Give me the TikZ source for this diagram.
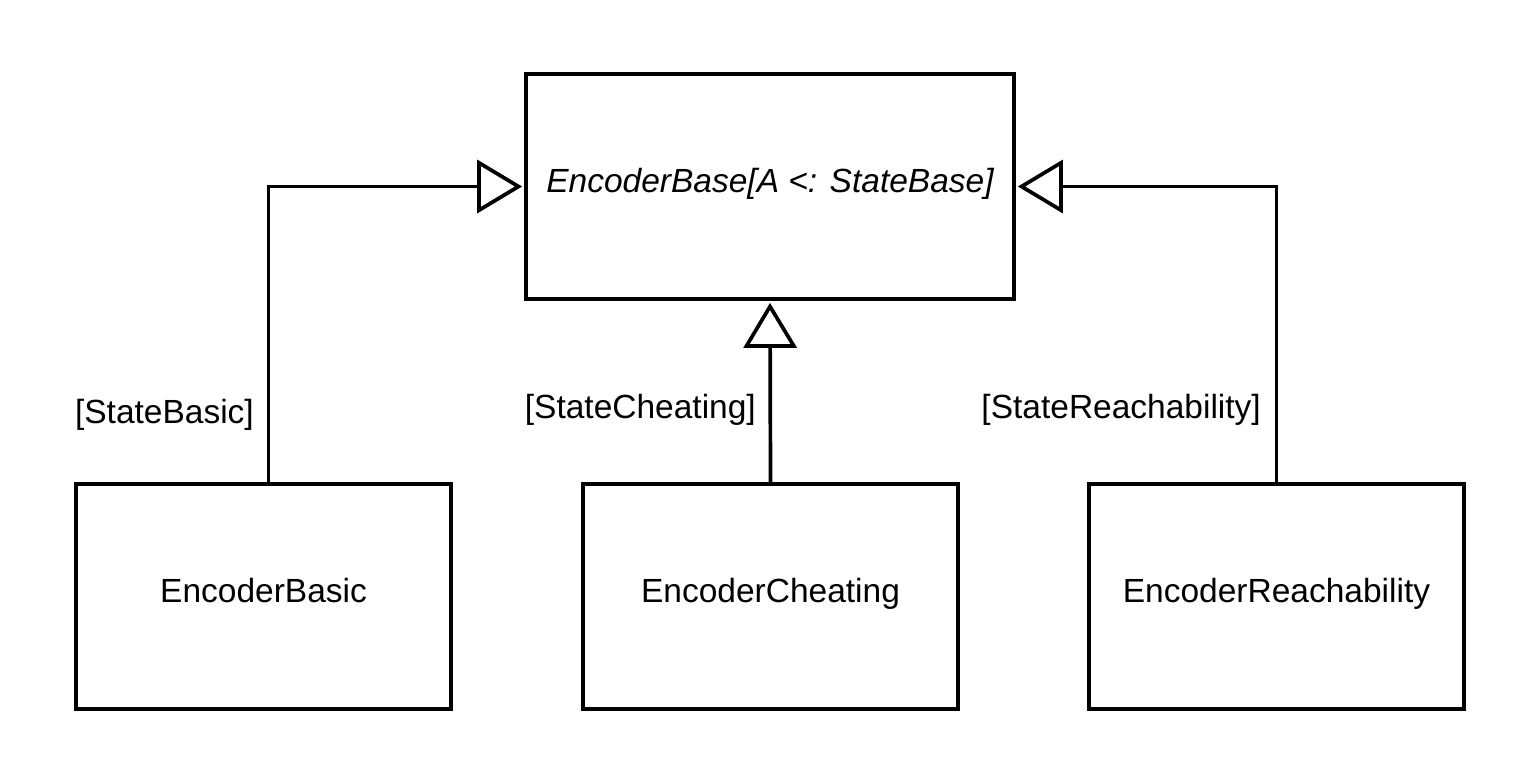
\documentclass[tikz,border=0pt]{standalone}
\usepackage{fontspec}
\setmainfont{Liberation Sans}
\usetikzlibrary{arrows.meta}
\begin{document}
\begin{tikzpicture}[x=1pt,y=-1pt,
  cls/.style={draw=black, line width=3.7pt, fill=white, minimum width=375pt, minimum height=225pt,
    inner sep=0pt, text height=24pt, text depth=12pt, font=\fontsize{33.5}{40}\selectfont},
  inh/.style={draw=black, line width=3.7pt, -{Triangle[open, length=45pt, width=53pt]}, shorten >=2pt},
  lbl/.style={inner sep=0pt, anchor=base east, font=\fontsize{33.5}{40}\selectfont}]
\useasboundingbox (0,0) rectangle (1539,784);
\fill[white] (0,0) rectangle (1539,784);
\node[cls, minimum width=488pt, font=\fontsize{33.5}{40}\selectfont\itshape] (top) at (770,186.5) {EncoderBase[A <: StateBase]};
\node[cls] (basic) at (263.5,596.5) {EncoderBasic};
\node[cls] (cheat) at (770.5,596.5) {EncoderCheating};
\node[cls] (reach) at (1276.5,596.5) {EncoderReachability};
\coordinate (bj) at ([xshift=5pt]basic.north);
\draw[inh] (bj) |- (top.west);
\draw[inh] (cheat.north) -- (top.south);
\draw[inh] (reach.north) |- (top.east);
\node[lbl] (lb) at (254,423) {[StateBasic]};
\node[lbl] (lc) at (756,418) {[StateCheating]};
\node[lbl] (lr) at (1261,418) {[StateReachability]};
\end{tikzpicture}
\end{document}
